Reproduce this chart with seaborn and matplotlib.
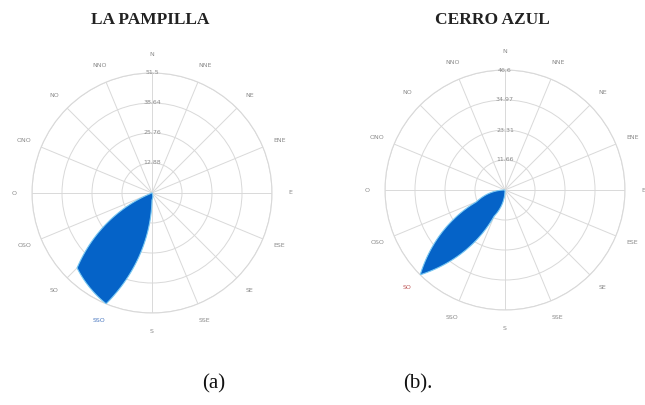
import matplotlib
matplotlib.use('Agg')
import matplotlib.pyplot as plt
import seaborn as sns
import numpy as np

# 16 compass points (Spanish), clockwise from north
directions = ["N", "NNE", "NE", "ENE", "E", "ESE", "SE", "SSE",
              "S", "SSO", "SO", "OSO", "O", "ONO", "NO", "NNO"]

# frequency (%) per direction
pampilla = [0, 0, 0, 0, 0, 0, 0, 0.3, 3, 51.5, 45.5, 1, 0, 0, 0, 0]
cerro_azul = [0, 0, 0, 0, 0, 0, 0, 0, 0, 11, 46.6, 12, 0, 0, 0, 0]

# ring labels as printed on each rose
pampilla_rings = [12.88, 25.76, 38.64, 51.52]
pampilla_ring_labels = ["12.88", "25.76", "38.64", "51.5"]
cerro_rings = [11.66, 23.31, 34.97, 46.62]
cerro_ring_labels = ["11.66", "23.31", "34.97", "46.6"]

titles = ["LA PAMPILLA", "CERRO AZUL"]
captions = ["(a)", "(b)."]
peak_label_colors = ["#4a78c0", "#c05a5a"]

sns.set_theme(style="white")
plt.rcParams['font.family'] = ['DejaVu Sans']

fig = plt.figure(figsize=(6.45, 4.05), dpi=100)
fig.patch.set_facecolor('white')

grid_col = '#d9d9d9'
label_col = '#8a8a8a'
rose_col = '#0563c8'

panels = [
    (pampilla, pampilla_rings, pampilla_ring_labels, [32 / 645, 92 / 405, 240 / 645, 240 / 405]),
    (cerro_azul, cerro_rings, cerro_ring_labels, [385 / 645, 95 / 405, 240 / 645, 240 / 405]),
]

theta = np.deg2rad(np.arange(16) * 22.5)

for i, (vals, rings, ring_labels, rect) in enumerate(panels):
    ax = fig.add_axes(rect, projection='polar')
    ax.set_theta_zero_location('N')
    ax.set_theta_direction(-1)
    ax.set_facecolor('white')

    th = np.append(theta, theta[0])
    rr = np.append(vals, vals[0])
    polys = ax.fill(th, rr, color=rose_col, zorder=3)
    for p in polys:
        p.set_edgecolor('#79c8f2')
        p.set_linewidth(0.8)
        # draw straight (theta, r) segments as spirals like the original rose
        p.get_path()._interpolation_steps = 60

    ax.set_ylim(0, rings[-1])
    ax.set_yticks(rings)
    ax.set_yticklabels([])
    ax.set_xticks(theta)
    ax.set_xticklabels(directions, fontsize=4.5, color=label_col)
    peak = int(np.argmax(vals))
    ax.get_xticklabels()[peak].set_color(peak_label_colors[i])
    ax.tick_params(axis='x', pad=0)

    ax.grid(True, color=grid_col, linewidth=0.7)
    ax.spines['polar'].set_color(grid_col)
    ax.spines['polar'].set_linewidth(0.8)

    for r, lab in zip(rings, ring_labels):
        ax.text(0, r, lab, ha='center', va='center', fontsize=4.5,
                color=label_col, zorder=4)

fig.text(150 / 645, 1 - 20 / 405, titles[0], ha='center', va='center',
         fontsize=12.5, fontweight='bold', family='Liberation Serif', color='#222222')
fig.text(492 / 645, 1 - 20 / 405, titles[1], ha='center', va='center',
         fontsize=12.5, fontweight='bold', family='Liberation Serif', color='#222222')
fig.text(214 / 645, 1 - 384 / 405, captions[0], ha='center', va='center',
         fontsize=15, family='Liberation Serif', color='#111111')
fig.text(418 / 645, 1 - 384 / 405, captions[1], ha='center', va='center',
         fontsize=15, family='Liberation Serif', color='#111111')

plt.savefig('out.png', dpi=100, facecolor='white')
plt.close()
